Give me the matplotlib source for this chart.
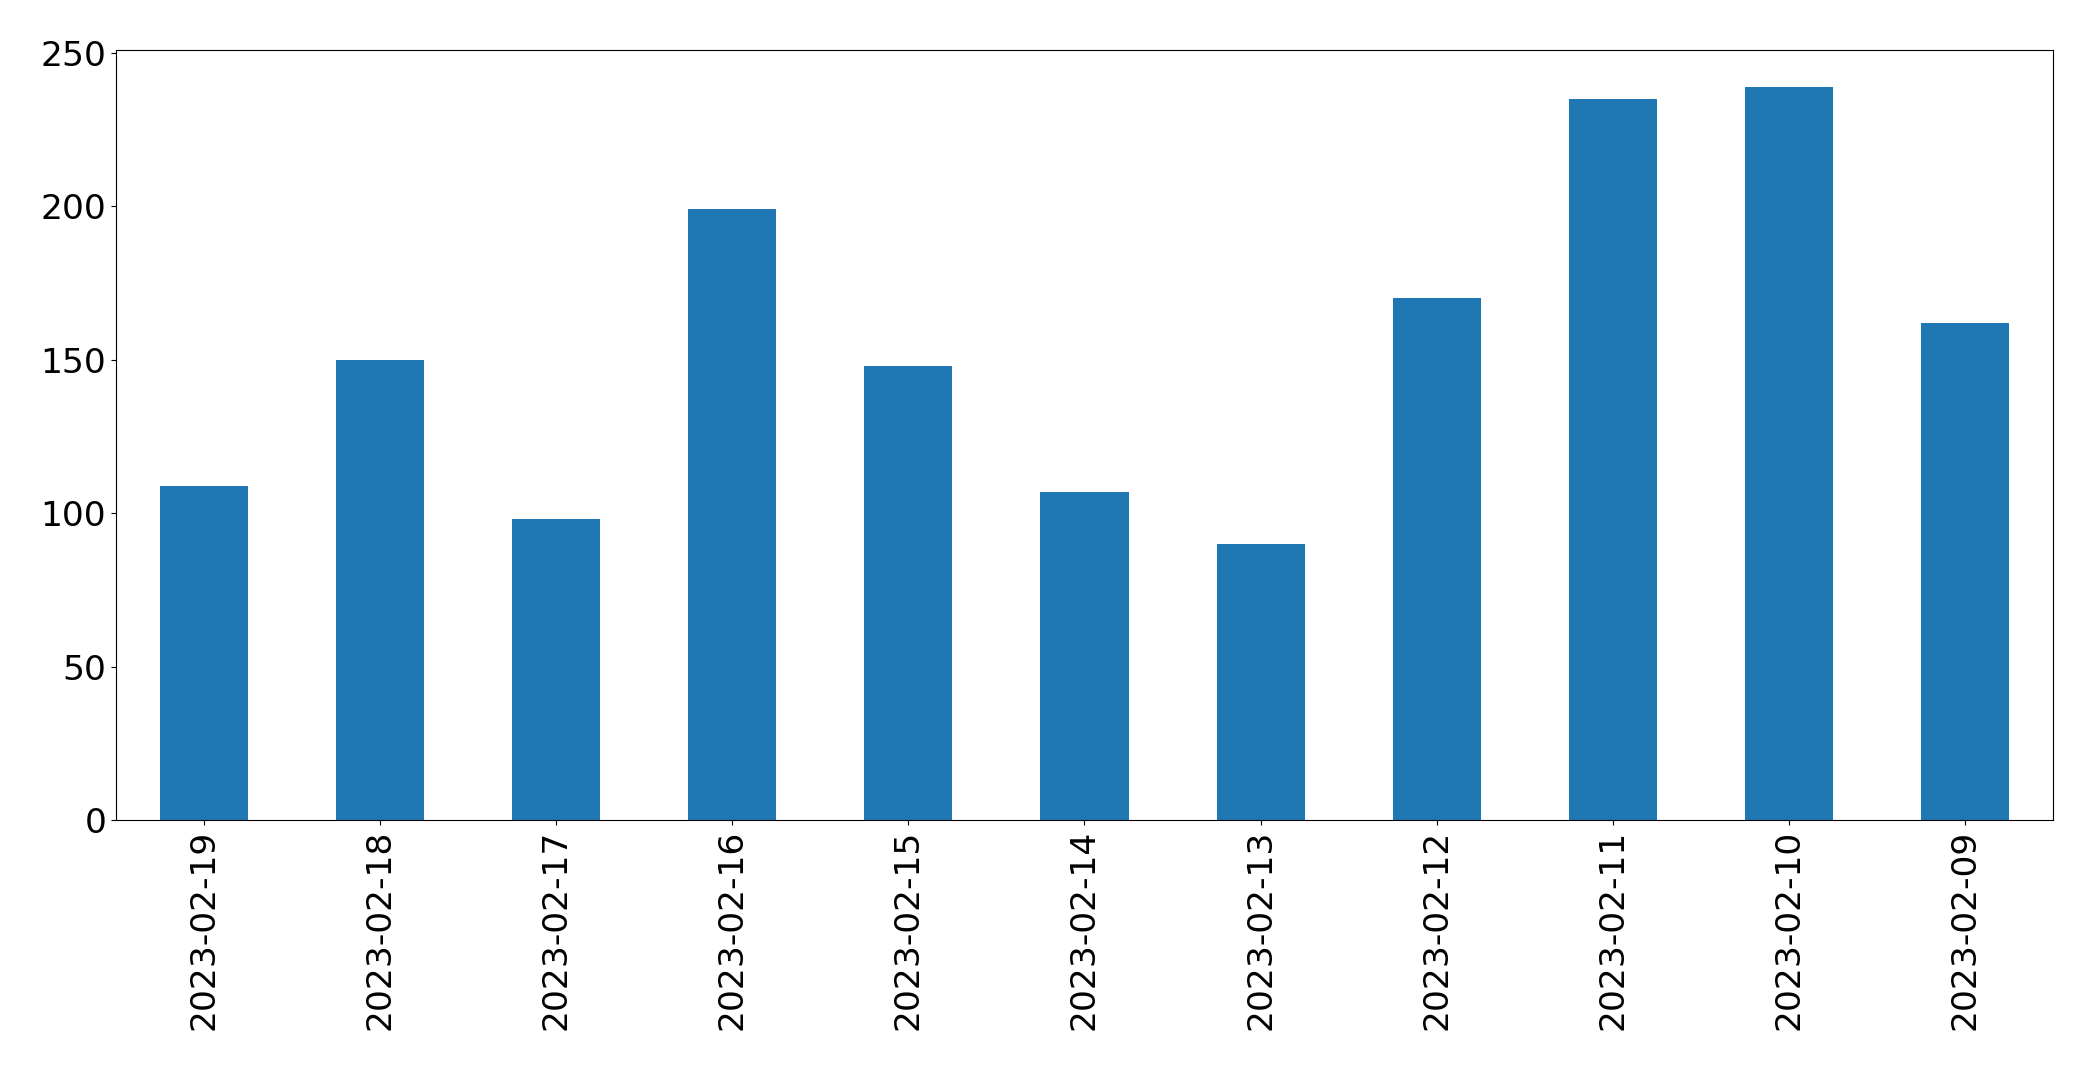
import matplotlib
matplotlib.use("Agg")
import matplotlib.pyplot as plt
import pandas as pd

# Werte pro Tag (absteigend nach Datum)
dates = ["2023-02-19", "2023-02-18", "2023-02-17", "2023-02-16", "2023-02-15",
         "2023-02-14", "2023-02-13", "2023-02-12", "2023-02-11", "2023-02-10",
         "2023-02-09"]
counts = [109, 150, 98, 199, 148, 107, 90, 170, 235, 239, 162]

series = pd.Series(counts, index=dates)

fig = plt.figure(figsize=(20.93, 10.72), dpi=100)
ax = fig.add_axes([0.0554, 0.2351, 0.9255, 0.7183])

series.plot(kind="bar", ax=ax, color="#1f77b4")

ax.tick_params(axis="both", labelsize=24.8)
ax.set_xlabel("")

fig.savefig("out.png", dpi=100)
plt.close(fig)
